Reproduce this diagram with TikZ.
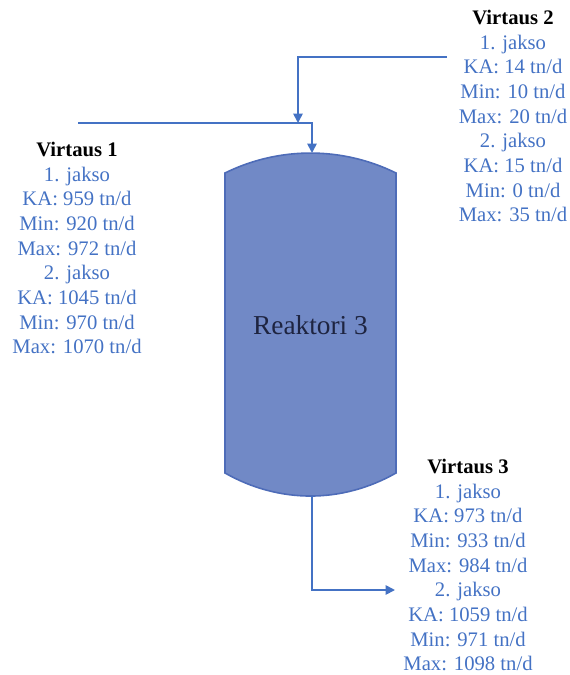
\documentclass[tikz,border=0pt]{standalone}
\usepackage{fontspec}
\setmainfont{Liberation Serif}
\usetikzlibrary{arrows.meta}
\definecolor{flowblue}{HTML}{4472C4}
\definecolor{tankfill}{HTML}{7189C6}
\definecolor{tankedge}{HTML}{4E6CB8}
\definecolor{tanktext}{HTML}{1E2440}

\begin{document}
\begin{tikzpicture}[x=0.75pt, y=-0.75pt, >={Triangle[width=7pt,length=7pt]},
    pipe/.style={flowblue, line width=1.3pt},
    flowinfo/.style={align=center, inner sep=0pt, text=flowblue,
        font=\fontsize{15.5}{18.5}\selectfont}]
    \useasboundingbox (0,0) rectangle (570,675);

    % Reactor vessel, domed top and bottom.
    \filldraw[fill=tankfill, draw=tankedge, line width=1.2pt]
        (225,173) .. controls (279,146.4) and (342,146.4) .. (396,173)
        -- (396,473) .. controls (342,503.7) and (279,503.7) .. (225,473) -- cycle;
    \node[text=tanktext, font=\fontsize{20.5}{24}\selectfont] (tank) at (310.5,325) {Reaktori 3};
    \coordinate (tanktop) at (312,153);
    \coordinate (tankbot) at (312,496);

    % Pipe corners.
    \coordinate (v1start) at (78,123);
    \coordinate (v1bend) at (312,123);
    \coordinate (v2start) at (447,57);
    \coordinate (v2bend) at (298,57);
    \coordinate (v2join) at (298,123);
    \coordinate (v3bend) at (312,590);
    \coordinate (v3end) at (395,590);

    \draw[pipe, ->] (v1start) -- (v1bend) -- (tanktop);
    \draw[pipe, ->] (v2start) -- (v2bend) -- (v2join);
    \draw[pipe, ->] (tankbot) -- (v3bend) -- (v3end);

    \node[flowinfo] (v1) at (77,248) {\textbf{\color{black}Virtaus 1}\\1. jakso\\KA: 959 tn/d\\Min: 920 tn/d\\Max: 972 tn/d\\2. jakso\\KA: 1045 tn/d\\Min: 970 tn/d\\Max: 1070 tn/d};
    \node[flowinfo] (v2) at (513,116) {\textbf{\color{black}Virtaus 2}\\1. jakso\\KA: 14 tn/d\\Min: 10 tn/d\\Max: 20 tn/d\\2. jakso\\KA: 15 tn/d\\Min: 0 tn/d\\Max: 35 tn/d};
    \node[flowinfo] (v3) at (468,565) {\textbf{\color{black}Virtaus 3}\\1. jakso\\KA: 973 tn/d\\Min: 933 tn/d\\Max: 984 tn/d\\2. jakso\\KA: 1059 tn/d\\Min: 971 tn/d\\Max: 1098 tn/d};
\end{tikzpicture}
\end{document}
